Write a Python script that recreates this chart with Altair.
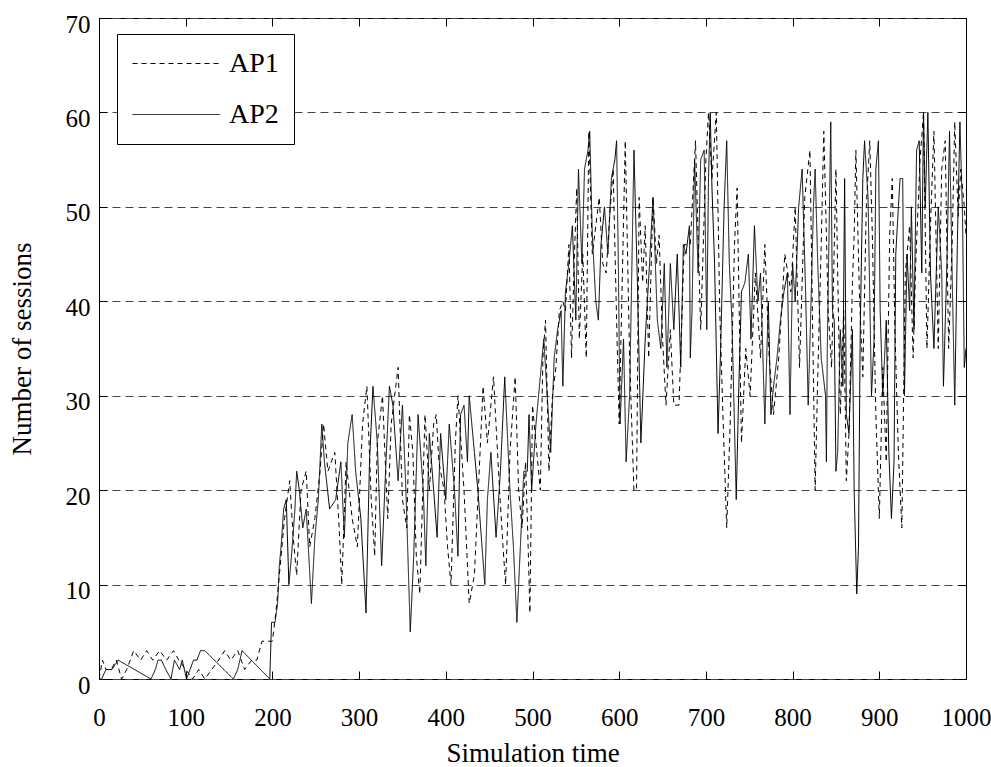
import altair as alt
import pandas as pd

# ---------------- data ----------------
series_names = ["AP1", "AP2"]
x_ticks = [0, 100, 200, 300, 400, 500, 600, 700, 800, 900, 1000]
y_ticks = [0, 10, 20, 30, 40, 50, 60, 70]

ap1_time = [
    0, 4, 8, 14, 20, 26, 32, 40, 48, 55, 62, 70, 78, 86, 92, 100, 108, 115, 122, 130,
    138, 145, 152, 160, 168, 176, 182, 188, 193,
    200, 204, 214, 220, 224, 228, 233, 239, 243, 249, 255, 259, 264, 272, 277, 280, 285, 292, 298, 304,
    309, 314, 318, 321, 327, 333, 337, 345, 350, 355, 358, 362, 366, 370, 376, 381, 386, 389, 392,
    398, 402, 406, 411, 414, 421, 427, 433, 443, 448, 455, 462, 466, 469, 474, 480, 484, 488, 492, 495,
    497, 500, 505, 509, 512, 515, 519, 523, 527, 531, 535, 538, 542, 545, 548, 551, 554, 558, 562, 565,
    569, 573, 577, 581, 585, 589, 593, 597, 600, 603, 607, 612, 617, 620, 623, 627, 630, 634, 639, 643,
    646, 650, 654, 659, 663, 669, 675, 682, 688, 694, 700, 703, 707, 712, 716, 720, 724, 728, 733, 736,
    741, 746, 751, 757, 763, 768, 773, 778, 784, 791, 798, 803, 808, 814, 820, 826, 829, 833,
    836, 839, 841, 845, 850, 852, 855, 859, 862, 865, 869, 871, 873, 877, 881, 885, 889, 892, 896, 900,
    904, 908, 912, 915, 918, 922, 926, 930, 935, 939, 942, 947, 951, 955, 959, 963, 968, 972, 976, 980,
    984, 987, 991, 994, 998, 1000,
]
ap1_sessions = [
    0, 2, 1, 1, 2, 0, 1, 3, 2, 3, 2, 3, 2, 3, 2, 1, 0, 1, 0, 1,
    2, 3, 2, 3, 1, 2, 2, 4, 4,
    4, 7, 17, 21, 15, 11, 20, 22, 14, 17, 22, 27, 22, 24, 16, 10, 23, 17, 14, 27,
    31, 19, 13, 25, 30, 17, 27, 33, 19, 16, 28, 24, 13, 9, 28, 20, 27, 28, 23,
    20, 14, 10, 25, 30, 20, 8, 11, 31, 25, 32, 20, 14, 10, 24, 32, 20, 16, 23, 14,
    7, 29, 24, 20, 34, 38, 22, 30, 33, 39, 40, 39, 46, 34, 44, 52, 36, 45, 34, 58,
    45, 48, 51, 44, 43, 49, 54, 38, 27, 40, 57, 34, 20, 20, 51, 42, 48, 34, 51, 44,
    47, 36, 29, 37, 29, 29, 46, 46, 57, 37, 55, 60, 53, 60, 39, 27, 16, 27, 46, 52,
    25, 35, 30, 43, 34, 46, 34, 28, 34, 45, 41, 50, 33, 51, 56, 20, 32, 46,
    58, 47, 39, 33, 54, 43, 28, 39, 21, 26, 42, 47, 56, 41, 32, 50, 57, 47, 28, 17,
    33, 23, 47, 53, 37, 24, 16, 43, 48, 34, 44, 55, 60, 35, 48, 58, 35, 54, 57, 35,
    46, 59, 49, 54, 50, 47,
]

ap2_time = [
    0, 3, 8, 12, 15, 22, 60, 65, 68, 72, 77, 83, 85, 87, 93, 96, 101, 105, 109, 113,
    117, 122, 155, 160, 165, 197,
    199, 203, 206, 208, 210, 213, 216, 219, 222, 226, 228, 231, 235, 239, 245, 249, 253, 257, 260, 266,
    273, 279, 283, 287, 292, 296, 302, 308, 312, 316, 321, 326, 331, 335, 339, 345, 350, 354, 359, 363,
    368, 374, 377, 381, 386, 390, 394, 400, 404, 410, 414, 417, 421, 425, 427, 433, 437, 445, 448, 452,
    458, 463, 468, 474, 478, 482, 486, 490, 494, 496, 499, 504, 509, 513, 517, 521, 525, 529, 533, 535,
    538, 542, 546, 550, 553, 557, 560, 564, 566, 569, 573, 576, 579, 583, 587, 591, 595, 597, 599, 601,
    605, 608, 612, 617, 621, 625, 630, 635, 639, 644, 648, 652, 655, 659, 663, 667, 671, 674, 677, 681,
    682, 684, 687, 691, 694, 698, 701, 703, 705, 707, 710, 714, 717, 721, 724, 727, 730, 735, 738, 741,
    745, 749, 752, 756, 760, 763, 768, 772, 775, 778, 782, 786, 790, 794, 797, 800, 803, 807, 811, 815,
    818, 821, 824, 826, 829, 833,
    838, 839, 840, 842, 844, 846, 848, 850, 852, 855, 858, 860, 862, 865, 869, 871, 874, 876, 878, 881,
    883, 887, 891, 894, 896, 899, 901, 904, 908, 911, 914, 917, 919, 922, 924, 927, 929, 932, 935, 937,
    940, 943, 946, 949, 951, 953, 956, 959, 963, 968, 972, 974, 978, 981, 984, 987, 990, 993, 996, 998,
    1000,
]
ap2_sessions = [
    0, 0, 1, 1, 1, 2, 0, 1, 2, 2, 1, 0, 1, 2, 1, 2, 0, 1, 2, 2,
    3, 3, 0, 1, 3, 0,
    6, 6, 8, 12, 14, 18, 19, 10, 13, 18, 22, 20, 16, 18, 8, 15, 19, 27, 23, 18,
    19, 23, 15, 25, 28, 22, 17, 7, 23, 31, 25, 12, 23, 31, 29, 21, 29, 20, 5, 13,
    28, 20, 12, 26, 20, 15, 26, 19, 27, 20, 13, 28, 29, 23, 30, 24, 20, 10, 19, 24,
    15, 22, 32, 20, 14, 6, 14, 22, 22, 28, 20, 27, 32, 36, 30, 24, 34, 37, 39, 31,
    41, 44, 48, 38, 54, 44, 54, 56, 58, 47, 40, 38, 46, 50, 45, 53, 55, 57, 44, 27,
    36, 23, 30, 56, 42, 25, 36, 44, 51, 38, 35, 44, 33, 44, 37, 45, 33, 46, 45, 48,
    34, 39, 55, 43, 55, 56, 37, 53, 60, 52, 44, 26, 35, 50, 57, 44, 38, 19, 31, 41,
    42, 45, 36, 48, 40, 43, 27, 40, 28, 31, 34, 38, 41, 43, 28, 44, 40, 50, 54, 41,
    29, 39, 50, 54, 44, 34,
    30, 23, 35, 47, 59, 39, 38, 22, 24, 37, 31, 53, 28, 26, 37, 20, 9, 14, 37, 53,
    57, 51, 30, 36, 54, 57, 39, 30, 38, 24, 17, 23, 45, 50, 53, 53, 30, 45, 39, 50,
    37, 56, 57, 43, 60, 50, 60, 43, 35, 50, 43, 31, 44, 58, 43, 29, 46, 59, 49, 33,
    35,
]

df = pd.concat([
    pd.DataFrame({"time": ap1_time, "sessions": ap1_sessions, "series": series_names[0]}),
    pd.DataFrame({"time": ap2_time, "sessions": ap2_sessions, "series": series_names[1]}),
], ignore_index=True)

# ---------------- layout ----------------
W, H = 867, 661
FONT = "Liberation Serif"

xs = alt.Scale(domain=[0, 1000], nice=False, zero=False)
ys = alt.Scale(domain=[0, 70], nice=False, zero=False)

legend = alt.Legend(
    title=None, orient="none", legendX=18, legendY=16,
    strokeColor="black", fillColor="white", padding=15, cornerRadius=0,
    symbolType="M-1,0H5.24", symbolSize=784, symbolStrokeWidth=1,
    symbolStrokeColor="black", symbolFillColor="transparent",
    labelFont=FONT, labelFontSize=28, labelColor="black",
    labelOffset=68, rowPadding=22, labelBaseline="middle",
)

main = alt.Chart(df).mark_line(strokeWidth=1, color="black", clip=True).encode(
    x=alt.X("time:Q", scale=xs, axis=alt.Axis(
        orient="bottom", values=x_ticks, format="d", ticks=False, tickSize=0,
        domain=False, grid=False,
        labelFontSize=25, labelPadding=38, labelBaseline="middle", labelFlush=False,
        labelOverlap=False, title="Simulation time", titleFontSize=27,
        titleFontWeight="normal", titleX=W / 2, titleY=74, titleBaseline="middle",
    )),
    y=alt.Y("sessions:Q", scale=ys, axis=alt.Axis(
        orient="left", values=y_ticks, format="d", ticks=False, tickSize=0, domain=False,
        grid=True, gridDash=[8, 5], gridColor="#444444", gridWidth=1,
        labelFontSize=25, labelPadding=9, labelOffset=6, labelOverlap=False,
        title="Number of sessions", titleFontSize=27, titleFontWeight="normal",
        titleX=-77, titleY=H / 2, titleBaseline="middle",
    )),
    strokeDash=alt.StrokeDash("series:N", scale=alt.Scale(
        domain=series_names, range=[[5, 4], [1, 0]]), legend=legend),
)


def tick_layer(x_orient, y_orient):
    return alt.Chart(df).mark_line(opacity=0).encode(
        x=alt.X("time:Q", scale=xs, axis=alt.Axis(
            orient=x_orient, offset=-H, values=x_ticks, labels=False, domain=False,
            grid=False, ticks=True, tickSize=8, tickColor="black", tickWidth=1, title=None)),
        y=alt.Y("sessions:Q", scale=ys, axis=alt.Axis(
            orient=y_orient, offset=-W, values=y_ticks, labels=False, domain=False,
            grid=False, ticks=True, tickSize=8, tickColor="black", tickWidth=1, title=None)),
        detail="series:N",
    )


chart = alt.layer(
    main,
    tick_layer("top", "right"),     # ticks pointing inward from bottom / left edges
    tick_layer("bottom", "left"),   # ticks pointing inward from top / right edges
).resolve_axis(
    x="independent", y="independent"
).properties(
    width=W, height=H,
    padding={"left": 99, "top": 18, "right": 25, "bottom": 88},
    autosize=alt.AutoSizeParams(type="none"),
    background="white",
).configure_view(
    stroke="black", strokeWidth=1
).configure_axis(
    labelFont=FONT, titleFont=FONT, labelColor="black", titleColor="black"
)

chart.save("out.html", embed_options={"renderer": "svg", "actions": False})
